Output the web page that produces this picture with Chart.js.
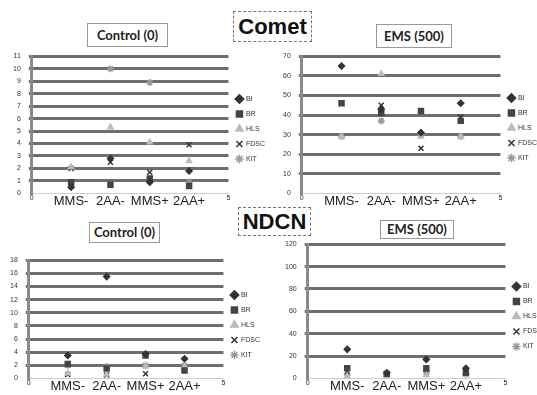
<!DOCTYPE html>
<html>
<head>
<meta charset="utf-8">
<script src="https://cdn.jsdelivr.net/npm/chart.js@4/dist/chart.umd.min.js"></script>
<style>
  html, body { margin: 0; padding: 0; background: #fff; overflow: hidden; }
  body { width: 537px; height: 395px; position: relative; font-family: "Liberation Sans", Arial, sans-serif; }
  .panel { position: absolute; }
  .box { position: absolute; border: 1px solid #999; background: #fff; color: #222;
         text-align: center; box-sizing: border-box; white-space: nowrap; }
  .sub { font-family: Lato, sans-serif; font-size: 13px; font-weight: bold; }
  .big { font-size: 22px; font-weight: bold; color: #111; border-color: #777; border-style: dashed; }
</style>
</head>
<body>
<div class="panel" style="left:0;top:44px;width:275px;height:165px"><canvas id="c1"></canvas></div>
<div class="panel" style="left:270px;top:44px;width:277px;height:165px"><canvas id="c2"></canvas></div>
<div class="panel" style="left:0;top:248px;width:270px;height:146px"><canvas id="c3"></canvas></div>
<div class="panel" style="left:270px;top:232px;width:282px;height:162px"><canvas id="c4"></canvas></div>

<div class="box sub" style="left:87px;top:23px;width:81px;height:24px;line-height:22px">Control (0)</div>
<div class="box sub" style="left:376px;top:24px;width:76px;height:24px;line-height:22px">EMS (500)</div>
<div class="box sub" style="left:89px;top:222px;width:71px;height:21px;line-height:19px">Control (0)</div>
<div class="box sub" style="left:380px;top:220px;width:74px;height:19px;line-height:17px">EMS (500)</div>
<div class="box big" style="left:233px;top:11px;width:79px;height:31px;line-height:29px">Comet</div>
<div class="box big" style="left:238px;top:207px;width:73px;height:29px;line-height:27px">NDCN</div>

<script>
// categories sit at x = 1..4 on a 0..5 axis
const categories = ['MMS-', '2AA-', 'MMS+', '2AA+'];
const seriesNames = ['BI', 'BR', 'HLS', 'FDSC', 'KIT'];

// rows follow seriesNames: BI, BR, HLS, FDSC, KIT
const cometControl = [
  [0.5, 2.8, 0.9, 1.8],
  [0.9, 0.7, 1.2, 0.6],
  [2.1, 5.3, 4.1, 2.6],
  [2.0, 2.5, 1.7, 3.9],
  [0.8, 10.0, 8.9, 0.9]
];
const cometEms = [
  [65, 43, 31, 46],
  [46, 41, 42, 37],
  [29, 61, 29, 29],
  [46, 45, 23, 39],
  [29, 37, 30, 29]
];
const ndcnControl = [
  [3.5, 15.5, 3.7, 3.0],
  [2.2, 1.5, 3.5, 1.2],
  [0.8, 0.6, 1.8, 1.8],
  [0.6, 0.5, 0.7, 1.5],
  [2.0, 1.8, 2.0, 2.0]
];
const ndcnEms = [
  [26, 5, 17, 9],
  [9, 4, 9, 5],
  [2, 3, 3, 3],
  [6, 4, 5, 7],
  [3, 4, 6, 4]
];

const markers = [
  { style: 'rectRot', color: '#333', r: 3 },
  { style: 'rect', color: '#444', r: 3.5 },
  { style: 'triangle', color: '#bbb', r: 3 },
  { style: 'crossRot', color: '#333', r: 3.5 },
  { style: 'star', color: '#999', r: 3.5 }
];

function makeChart(id, rows, yMax, yStep, pad) {
  const datasets = rows.map((vals, i) => ({
    label: seriesNames[i],
    data: vals.map((v, j) => ({ x: j + 1, y: v })),
    pointStyle: markers[i].style,
    pointRadius: markers[i].r,
    borderColor: markers[i].color,
    backgroundColor: markers[i].color,
    borderWidth: 1.5,
    showLine: false
  }));
  return new Chart(document.getElementById(id), {
    type: 'scatter',
    data: { datasets },
    options: {
      responsive: true,
      maintainAspectRatio: false,
      animation: false,
      layout: { padding: pad },
      plugins: {
        tooltip: { enabled: false },
        legend: {
          position: 'right',
          labels: {
            usePointStyle: true,
            boxWidth: 6,
            boxHeight: 6,
            padding: 8,
            color: '#333',
            font: { size: 7, family: 'Liberation Sans' }
          }
        }
      },
      scales: {
        x: {
          type: 'linear',
          min: 0, max: 5,
          grid: { display: false, drawTicks: false, tickLength: 0 },
          border: { display: true, color: '#ccc', width: 1, dash: [3, 2] },
          ticks: {
            stepSize: 1,
            autoSkip: false,
            maxRotation: 0,
            padding: 0,
            color: '#222',
            callback: v => (v >= 1 && v <= 4) ? categories[v - 1] : String(v),
            font: ctx => {
              const v = ctx.tick ? ctx.tick.value : 0;
              return (v >= 1 && v <= 4)
                ? { size: 13, family: 'Liberation Sans' }
                : { size: 7, family: 'Liberation Sans' };
            }
          }
        },
        y: {
          min: 0, max: yMax,
          grid: {
            color: ctx => ctx.tick && ctx.tick.value === 0 ? 'rgba(0,0,0,0)' : '#6e6e6e',
            lineWidth: 3,
            tickLength: 3
          },
          border: { display: true, color: '#8a8a8a', width: 3 },
          ticks: {
            stepSize: yStep,
            autoSkip: false,
            padding: 8,
            color: '#333',
            font: { size: 7, family: 'Liberation Sans' }
          }
        }
      }
    }
  });
}

makeChart('c1', cometControl, 11, 1, { left: 5, top: 5, right: 0, bottom: 0 });
makeChart('c2', cometEms, 70, 10, { left: 5, top: 3, right: 0, bottom: 0 });
makeChart('c3', ndcnControl, 18, 2, { left: 2, top: 8, right: 0, bottom: 0 });
makeChart('c4', ndcnEms, 120, 20, { left: 7, top: 7, right: 0, bottom: 0 });
</script>
</body>
</html>
